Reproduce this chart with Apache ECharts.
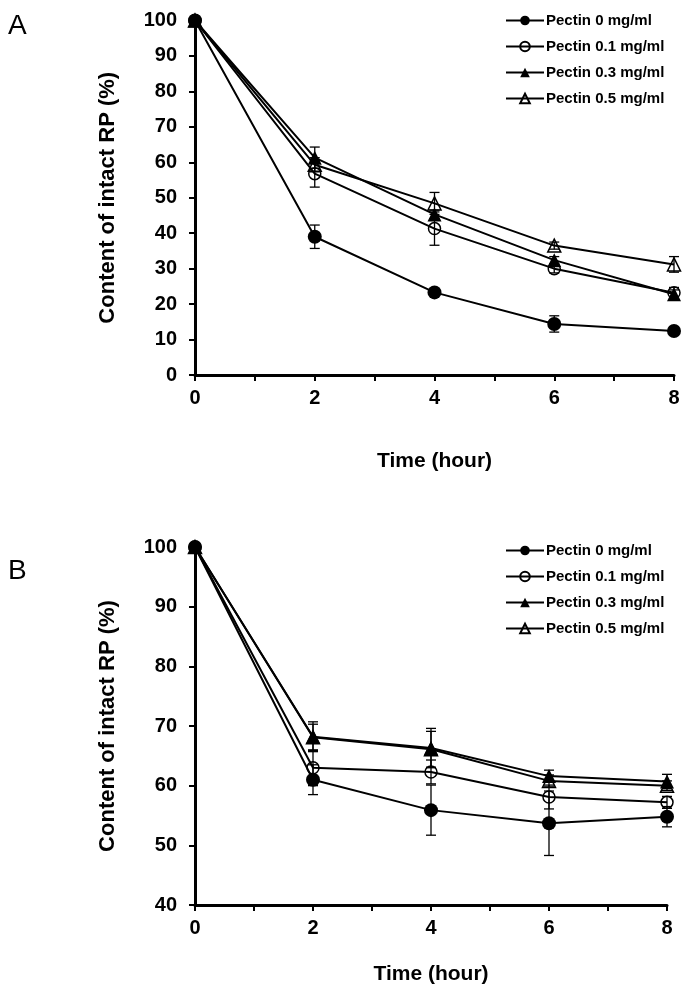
<!DOCTYPE html>
<html>
<head>
<meta charset="utf-8">
<script src="https://cdn.jsdelivr.net/npm/echarts@6/dist/echarts.min.js"></script>
<style>
html,body{margin:0;padding:0;background:#fff;}
#c{width:690px;height:1000px;}
</style>
</head>
<body>
<div id="c"></div>
<script>
// ---- data ----
const times = [0, 2, 4, 6, 8];
const seriesNames = ['Pectin 0 mg/ml', 'Pectin 0.1 mg/ml', 'Pectin 0.3 mg/ml', 'Pectin 0.5 mg/ml'];

// Panel A
const A_p0  = [100, 39.0, 23.3, 14.4, 12.4];
const A_p01 = [100, 56.8, 41.3, 30.0, 23.2];
const A_p03 = [100, 61.3, 45.3, 32.4, 22.8];
const A_p05 = [100, 59.3, 48.4, 36.5, 31.2];
const A_e0  = [0, 3.3, 0.8, 2.3, 0.8];
const A_e01 = [0, 3.8, 4.7, 1.2, 1.5];
const A_e03 = [0, 3.0, 1.2, 1.0, 1.2];
const A_e05 = [0, 2.0, 3.1, 1.0, 2.2];

// Panel B
const B_p0  = [100, 61.0, 55.9, 53.7, 54.8];
const B_p01 = [100, 63.0, 62.3, 58.1, 57.2];
const B_p03 = [100, 68.2, 66.3, 61.6, 60.7];
const B_p05 = [100, 68.1, 66.1, 60.8, 60.0];
const B_e0  = [0, 2.5, 4.2, 5.4, 1.7];
const B_e01 = [0, 3.0, 2.0, 2.0, 1.0];
const B_e03 = [0, 2.5, 3.3, 1.0, 1.2];
const B_e05 = [0, 2.2, 3.0, 1.0, 0.8];

const xTicks = [0, 2, 4, 6, 8];
const yTicksA = [0, 10, 20, 30, 40, 50, 60, 70, 80, 90, 100];
const yTicksB = [40, 50, 60, 70, 80, 90, 100];
const xTitle = 'Time (hour)';
const yTitle = 'Content of intact RP (%)';

// ---- styles ----
const FONT = '"Liberation Sans", Arial, sans-serif';
const markerStyles = [
  {symbol: 'circle', size: 14, fill: '#000'},
  {symbol: 'circle', size: 12, fill: 'rgba(0,0,0,0)'},
  {symbol: 'triangle', size: 14, fill: '#000'},
  {symbol: 'triangle', size: 13, fill: 'rgba(0,0,0,0)'}
];

function pairs(vals){ return times.map((t,i)=>[t, vals[i]]); }
function errData(vals, errs){
  const out = [];
  times.forEach((t,i)=>{ if (errs[i] > 0) out.push([t, vals[i]-errs[i], vals[i]+errs[i]]); });
  return out;
}
function renderErr(params, api){
  const x = api.value(0), lo = api.value(1), hi = api.value(2);
  const p1 = api.coord([x, lo]), p2 = api.coord([x, hi]);
  const c = 5;
  const st = {stroke: '#000', lineWidth: 1.3};
  return {type: 'group', children: [
    {type: 'line', shape: {x1: p1[0], y1: p1[1], x2: p2[0], y2: p2[1]}, style: st},
    {type: 'line', shape: {x1: p1[0]-c, y1: p1[1], x2: p1[0]+c, y2: p1[1]}, style: st},
    {type: 'line', shape: {x1: p2[0]-c, y1: p2[1], x2: p2[0]+c, y2: p2[1]}, style: st}
  ]};
}

const panels = [
  {vals: [A_p0, A_p01, A_p03, A_p05], errs: [A_e0, A_e01, A_e03, A_e05]},
  {vals: [B_p0, B_p01, B_p03, B_p05], errs: [B_e0, B_e01, B_e03, B_e05]}
];

const series = [];
panels.forEach((p, gi)=>{
  p.vals.forEach((v, si)=>{
    const m = markerStyles[si];
    series.push({
      type: 'line', name: seriesNames[si], xAxisIndex: gi, yAxisIndex: gi,
      data: pairs(v), symbol: m.symbol, symbolSize: m.size, showAllSymbol: true,
      z: si === 0 ? 5 : 3,
      lineStyle: {color: '#000', width: 2},
      itemStyle: {color: m.fill, borderColor: '#000', borderWidth: si % 2 === 1 ? 1.5 : 0},
      emphasis: {disabled: true}, animation: false
    });
  });
  p.vals.forEach((v, si)=>{
    series.push({
      type: 'custom', name: 'err' + gi + '_' + si, xAxisIndex: gi, yAxisIndex: gi,
      data: errData(v, p.errs[si]), renderItem: renderErr, z: 6, animation: false, silent: true
    });
  });
});

const axisLineStyle = {show: true, lineStyle: {color: '#000', width: 3}};
const tickLabel = {color: '#000', fontFamily: FONT, fontWeight: 'bold', fontSize: 20};

function xAxis(gi, gap){
  return {
    type: 'value', gridIndex: gi, min: 0, max: 8, interval: 1,
    name: xTitle, nameLocation: 'middle', nameGap: gap,
    nameTextStyle: {color: '#000', fontFamily: FONT, fontWeight: 'bold', fontSize: 21},
    axisLine: axisLineStyle,
    axisTick: {show: true, inside: false, length: 6, lineStyle: {color: '#000', width: 2}},
    axisLabel: Object.assign({margin: 13, formatter: v => xTicks.indexOf(v) >= 0 ? String(v) : ''}, tickLabel),
    splitLine: {show: false}
  };
}
function yAxis(gi, min, ticks){
  return {
    type: 'value', gridIndex: gi, min: min, max: 100, interval: 10,
    name: yTitle, nameLocation: 'middle', nameGap: 76,
    nameTextStyle: {color: '#000', fontFamily: FONT, fontWeight: 'bold', fontSize: 22},
    axisLine: axisLineStyle,
    axisTick: {show: true, inside: false, length: 6, lineStyle: {color: '#000', width: 2}},
    axisLabel: Object.assign({margin: 18, formatter: v => ticks.indexOf(v) >= 0 ? String(v) : ''}, tickLabel),
    splitLine: {show: false}
  };
}

function legend(top){
  return {
    orient: 'vertical', left: 500, top: top, itemWidth: 38, itemHeight: 12, itemGap: 11,
    data: seriesNames,
    textStyle: {color: '#000', fontFamily: FONT, fontWeight: 'bold', fontSize: 15, padding: [0,0,0,-3]},
    selectedMode: false
  };
}

const option = {
  backgroundColor: '#fff',
  animation: false,
  grid: [
    {left: 195, top: 20.5, width: 479, height: 354.5, containLabel: false},
    {left: 195, top: 547, width: 472, height: 358, containLabel: false}
  ],
  xAxis: [xAxis(0, 76), xAxis(1, 59)],
  yAxis: [yAxis(0, 0, yTicksA), yAxis(1, 40, yTicksB)],
  legend: [legend(8), legend(538)],
  graphic: [
    {type: 'text', left: 8, top: 12, style: {text: 'A', fontFamily: FONT, fontSize: 28, fill: '#000'}},
    {type: 'text', left: 8, top: 557, style: {text: 'B', fontFamily: FONT, fontSize: 28, fill: '#000'}}
  ],
  series: series
};

const chart = echarts.init(document.getElementById('c'), null, {renderer: 'canvas'});
chart.setOption(option);
</script>
</body>
</html>
